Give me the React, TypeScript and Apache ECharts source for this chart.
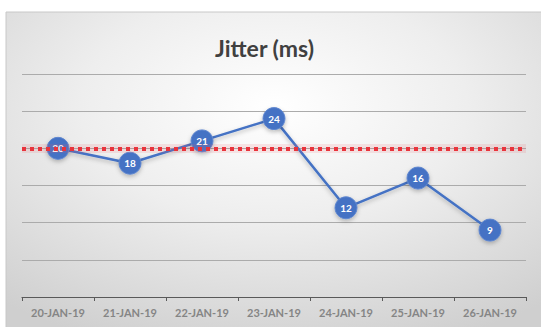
import React, { useEffect, useRef } from "react";
import * as echarts from "echarts";

const categories = ["20-JAN-19", "21-JAN-19", "22-JAN-19", "23-JAN-19", "24-JAN-19", "25-JAN-19", "26-JAN-19"];
const jitter = [20, 18, 21, 24, 12, 16, 9];
const threshold = 20;
const yMin = 0;
const yMax = 30;
const yStep = 5;

export default function App() {
  const ref = useRef<HTMLDivElement>(null);

  useEffect(() => {
    if (!ref.current) return;
    const chart = echarts.init(ref.current, undefined, { renderer: "svg" });
    chart.setOption({
      animation: false,
      backgroundColor: "#ffffff",
      textStyle: { fontFamily: "Lato" },
      graphic: [
        {
          type: "rect",
          z: -10,
          silent: true,
          shape: { x: 6, y: 12, width: 536, height: 316 },
          style: {
            fill: new echarts.graphic.RadialGradient(0.5, 0.3, 0.8, [
              { offset: 0, color: "#ffffff" },
              { offset: 0.45, color: "#eeeeee" },
              { offset: 1, color: "#cfcfcf" },
            ]),
            stroke: "#c8c8c8",
            lineWidth: 1,
          },
        },
      ],
      title: {
        text: "Jitter (ms)",
        left: 210,
        top: 31,
        textStyle: { fontFamily: "Lato", fontSize: 23, fontWeight: "bold", color: "#404040" },
      },
      grid: { left: 22, right: 15, top: 74, bottom: 30 },
      xAxis: {
        type: "category",
        data: categories,
        boundaryGap: true,
        axisLine: { lineStyle: { color: "#595959", width: 1.2 } },
        axisTick: { show: true, length: 4, lineStyle: { color: "#595959" } },
        axisLabel: { color: "#858585", fontSize: 11, fontWeight: "bold", margin: 10 },
        splitLine: { show: false },
      },
      yAxis: {
        type: "value",
        min: yMin,
        max: yMax,
        interval: yStep,
        axisLine: { show: false },
        axisTick: { show: false },
        axisLabel: { show: false },
        splitLine: { lineStyle: { color: "#ababab", width: 1 } },
      },
      series: [
        {
          type: "line",
          data: jitter,
          z: 3,
          symbol: "circle",
          symbolSize: 22,
          lineStyle: {
            color: "#4472c4",
            width: 2.5,
            shadowColor: "rgba(0,0,0,0.25)",
            shadowBlur: 4,
            shadowOffsetY: 2,
          },
          itemStyle: {
            color: "#4472c4",
            borderColor: "#5f86cf",
            borderWidth: 1,
            shadowColor: "rgba(0,0,0,0.25)",
            shadowBlur: 4,
            shadowOffsetY: 2,
          },
          label: {
            show: true,
            position: "inside",
            color: "#ffffff",
            fontSize: 10,
            fontWeight: "bold",
            fontFamily: "Lato",
          },
          markLine: {
            silent: true,
            z: 10,
            symbol: "none",
            label: { show: false },
            data: [
              {
                yAxis: threshold,
                lineStyle: { color: "rgba(235,90,100,0.14)", width: 9, type: "solid" },
              },
              {
                yAxis: threshold,
                lineStyle: { color: "#e8343c", width: 4, type: [4, 4] },
              },
            ],
          },
        },
      ],
    });
    return () => chart.dispose();
  }, []);

  return (
    <div
      ref={ref}
      style={{ position: "fixed", left: 0, top: 0, width: 541, height: 327 }}
    />
  );
}
